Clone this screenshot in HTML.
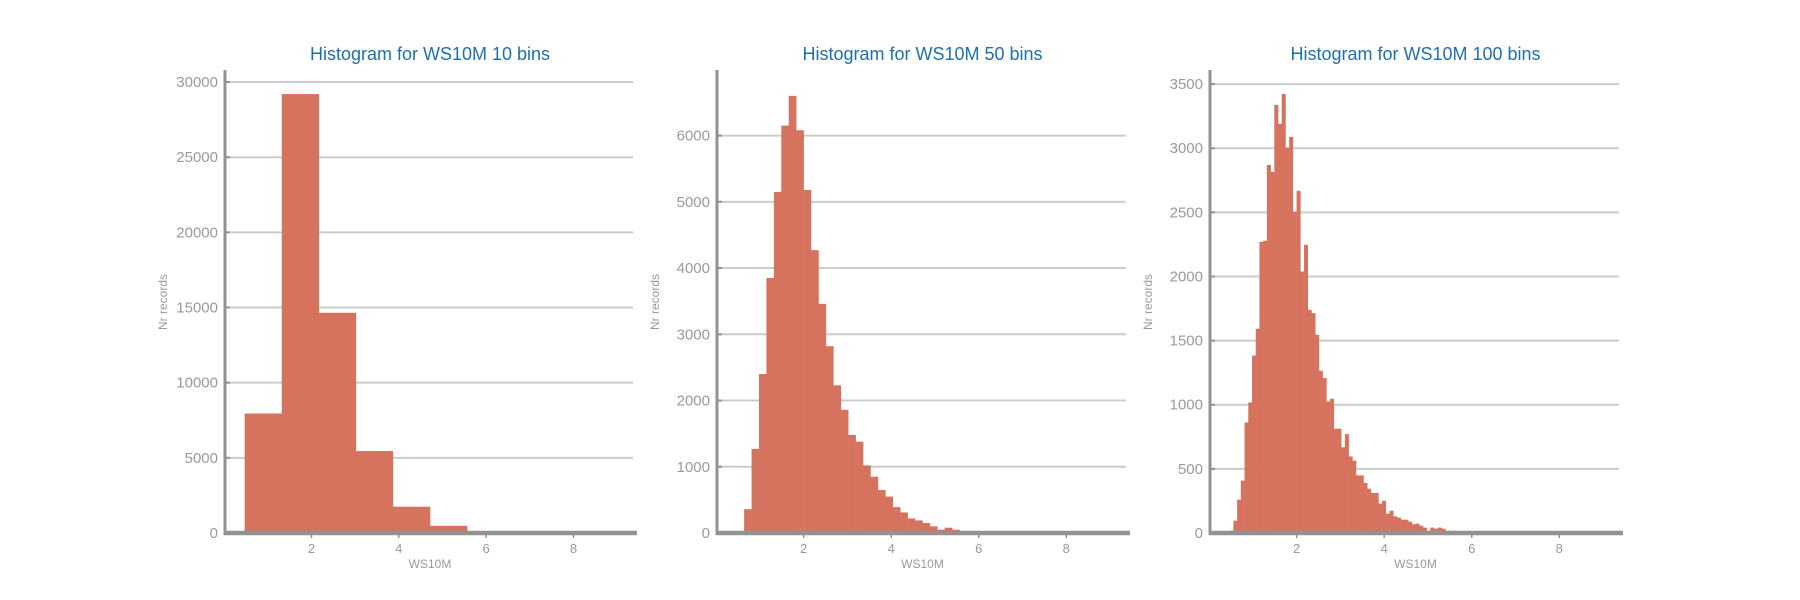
<!DOCTYPE html>
<html><head><meta charset="utf-8"><style>
html,body{margin:0;padding:0;background:#fff;}
svg{display:block;font-family:"Liberation Sans","DejaVu Sans",sans-serif;}
</style></head><body>
<svg id="chart" width="1800" height="600" viewBox="0 0 1800 600"></svg>
<script>
const binMin = 0.47;
const binMax = 8.96;
const counts10 = [7950, 29200, 14650, 5450, 1750, 480, 60, 20, 5, 2];
const counts50 = [10, 360, 1270, 2400, 3850, 5150, 6150, 6600, 6080, 5180, 4270, 3460, 2820, 2230, 1860, 1480, 1380, 1020, 850, 650, 550, 390, 310, 220, 190, 150, 100, 50, 80, 50, 30, 20, 15, 10, 8, 6, 5, 4, 3, 3, 2, 2, 2, 1, 1, 1, 1, 1, 1, 1];
const counts100 = [18, 96, 260, 408, 862, 1018, 1384, 1592, 2270, 2278, 2870, 2816, 3338, 3190, 3423, 3005, 3088, 2506, 2668, 2039, 2247, 1740, 1714, 1545, 1265, 1208, 1026, 1047, 813, 813, 668, 771, 597, 564, 449, 449, 390, 345, 312, 312, 229, 252, 151, 174, 130, 120, 104, 104, 88, 68, 73, 57, 42, 5, 42, 34, 42, 34, 18, 10, 18, 5, 3, 5, 2, 3, 2, 2, 1, 2, 1, 1, 1, 1, 1, 1, 1, 1, 1, 1, 1, 1, 1, 1, 1, 1, 1, 1, 1, 1, 1, 1, 1, 1, 1, 1, 1, 1, 1, 1];
const xTicks = [2, 4, 6, 8];
const yTicks10 = [0, 5000, 10000, 15000, 20000, 25000, 30000];
const yTicks50 = [0, 1000, 2000, 3000, 4000, 5000, 6000];
const yTicks100 = [0, 500, 1000, 1500, 2000, 2500, 3000, 3500];
const titles = ["Histogram for WS10M 10 bins", "Histogram for WS10M 50 bins", "Histogram for WS10M 100 bins"];

const NS = "http://www.w3.org/2000/svg";
const svg = document.getElementById('chart');
function mk(tag, attrs, parent) {
  const e = document.createElementNS(NS, tag);
  for (const k in attrs) e.setAttribute(k, attrs[k]);
  (parent || svg).appendChild(e);
  return e;
}
const panels = [
  {left: 225, right: 635, yMax: 30800, counts: counts10, yTicks: yTicks10},
  {left: 717, right: 1128, yMax: 6990, counts: counts50, yTicks: yTicks50},
  {left: 1210, right: 1621, yMax: 3610, counts: counts100, yTicks: yTicks100}
];
const yTop = 70, base = 533, xDomMin = 0.02, xDomMax = 9.41;

panels.forEach((p, i) => {
  const g = mk('g', {});
  
  
  const xs = v => p.left + (v - xDomMin) / (xDomMax - xDomMin) * (p.right - p.left);
  const ys = v => base - v / p.yMax * (base - yTop);
  p.yTicks.forEach(t => {
    if (t === 0) return;
    const l = mk('line', {x1: p.left, x2: p.right - 2, y1: ys(t), y2: ys(t), stroke: '#cccccc', 'stroke-width': 2}, g);
    
    
  });
  const n = p.counts.length, w = (binMax - binMin) / n;
  p.counts.forEach((c, k) => {
    const x0 = xs(binMin + k * w), x1 = xs(binMin + (k + 1) * w);
    const r = mk('rect', {x: x0, y: ys(c), width: x1 - x0 + 0.3, height: base - ys(c), fill: '#d6735e'}, g);
    
    
  });
  const ls = mk('line', {x1: p.left, x2: p.left, y1: yTop, y2: base + 2, stroke: '#929292', 'stroke-width': 3}, g);
  
  
  const bs = mk('line', {x1: p.left - 1, x2: p.right + 2, y1: base, y2: base, stroke: '#929292', 'stroke-width': 4.5}, g);
  
  
  p.yTicks.forEach(t => {
    mk('line', {x1: p.left, x2: p.left + 5, y1: ys(t), y2: ys(t), stroke: '#929292', 'stroke-width': 2}, g);
    const tx = mk('text', {x: p.left - 7, y: ys(t) + 5, 'text-anchor': 'end', 'font-size': 15, fill: '#999999'}, g);
    tx.textContent = t;
    
    
  });
  xTicks.forEach(t => {
    mk('line', {x1: xs(t), x2: xs(t), y1: base + 2, y2: base + 5, stroke: '#929292', 'stroke-width': 1.5}, g);
    const tx = mk('text', {x: xs(t), y: 553, 'text-anchor': 'middle', 'font-size': 13, fill: '#999999'}, g);
    tx.textContent = t;
    
    
  });
  const cx = (p.left + p.right) / 2;
  const title = mk('text', {x: cx, y: 60, 'text-anchor': 'middle', 'font-size': 18, fill: '#1f6fb0'}, g);
  title.textContent = titles[i];
  
  
  const xl = mk('text', {x: cx, y: 568, 'text-anchor': 'middle', 'font-size': 12, fill: '#999999'}, g);
  xl.textContent = 'WS10M';
  
  
  const yl = mk('text', {x: 0, y: 0, 'text-anchor': 'middle', 'font-size': 12, fill: '#999999', transform: 'translate(' + (p.left - 58) + ',302) rotate(-90)'}, g);
  yl.textContent = 'Nr records';
  
  
});
</script>
</body></html>
